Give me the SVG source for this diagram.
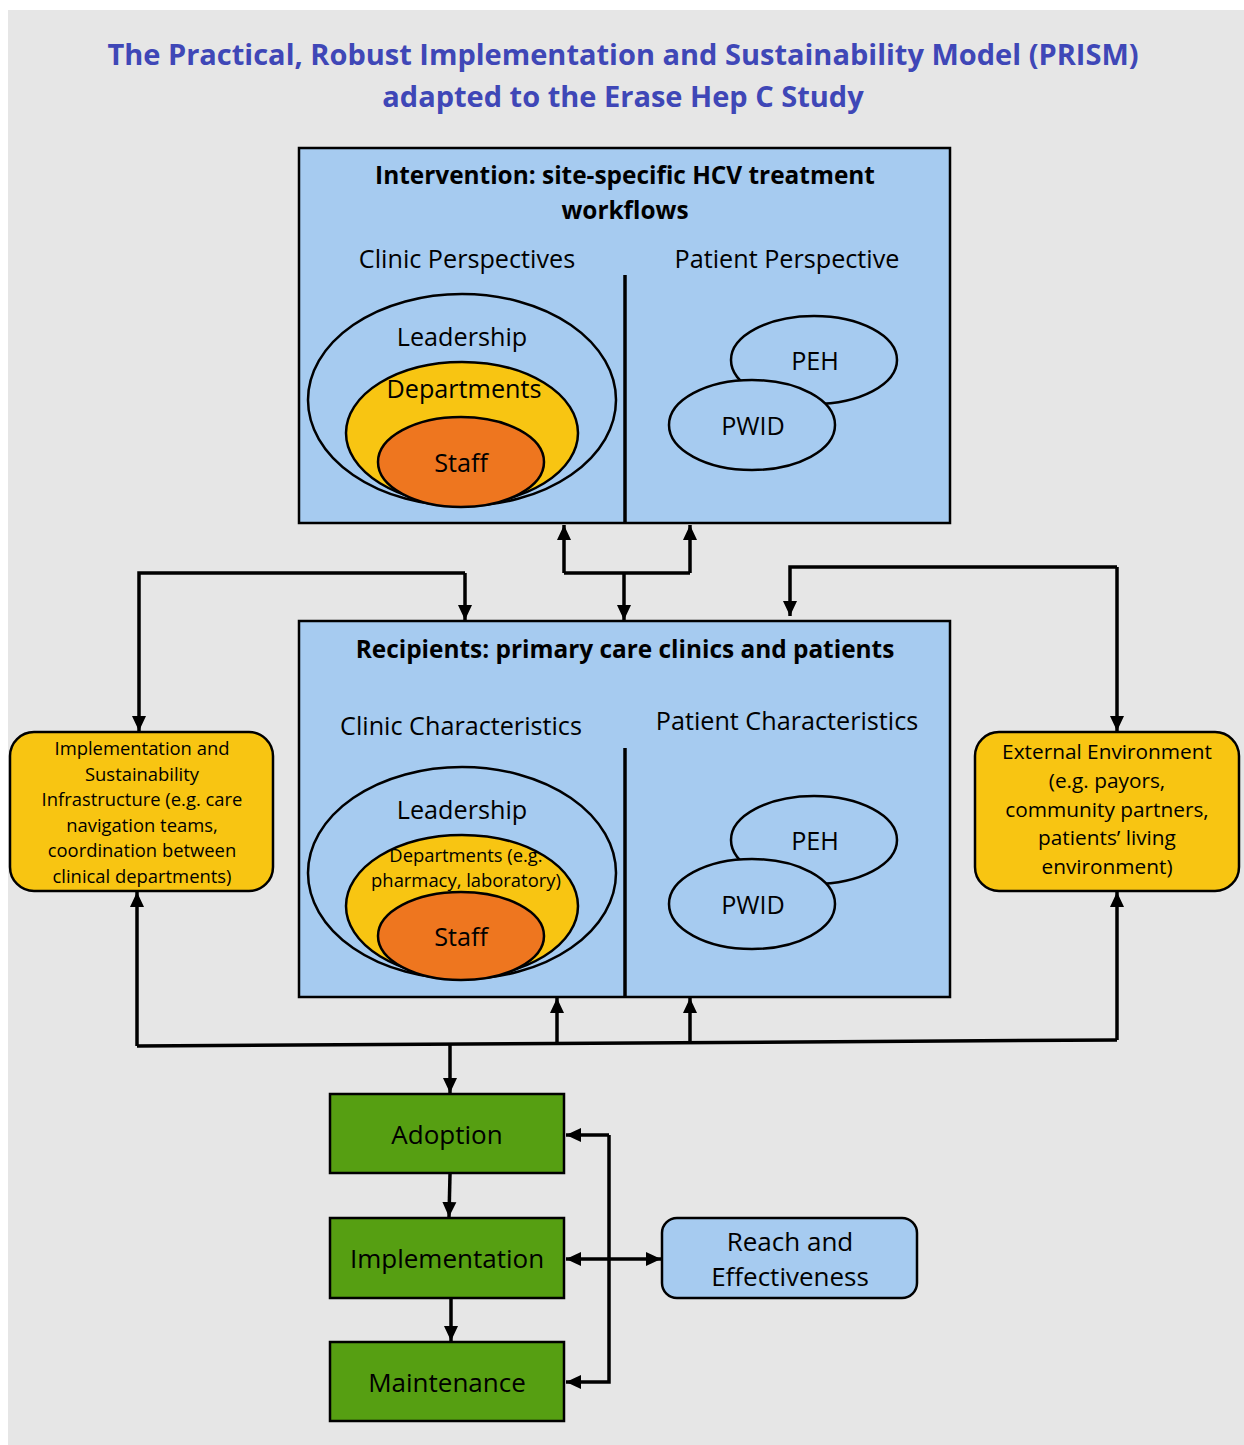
<svg xmlns="http://www.w3.org/2000/svg" width="1244" height="1445" viewBox="0 0 1244 1445">
<defs>
<marker id="ah" markerUnits="userSpaceOnUse" markerWidth="15" markerHeight="15" viewBox="0 0 15 15" refX="15" refY="7.5" orient="auto-start-reverse">
<path d="M0,0.5 L15,7.5 L0,14.5 Z" fill="#000"/>
</marker>
<style>
text{font-family:"Open Sans",Lato,"Liberation Sans",sans-serif;fill:#000;text-anchor:middle}
.title{font-size:29px;font-weight:bold;fill:#3f47b7}
.hd{font-size:24.4px;font-weight:bold}
.lb{font-size:25.2px}
.sm{font-size:18.4px}
.md{font-size:20.8px}
.big{font-size:26px}
.panel{fill:#a6cbf0;stroke:#000;stroke-width:2.5}
.yel{fill:#f8c512;stroke:#000;stroke-width:2.5}
.org{fill:#ee761f;stroke:#000;stroke-width:2.5}
.ell{fill:#a6cbf0;stroke:#000;stroke-width:2.5}
.grn{fill:#569f12;stroke:#000;stroke-width:2.5}
.div{stroke:#000;stroke-width:3.5}
.c{fill:none;stroke:#000;stroke-width:3.5}
.ca{fill:none;stroke:#000;stroke-width:3.5;marker-end:url(#ah)}
.cb{fill:none;stroke:#000;stroke-width:3.5;marker-end:url(#ah);marker-start:url(#ah)}
</style>
</defs>
<rect x="0" y="0" width="1244" height="1445" fill="#fff"/>
<rect x="8" y="10" width="1236" height="1435" fill="#e6e6e6"/>
<g id="title">
<text class="title" x="623" y="65">The Practical, Robust Implementation and Sustainability Model (PRISM)</text>
<text class="title" x="623" y="107">adapted to the Erase Hep C Study</text>
</g>
<g id="intervention">
<rect class="panel" x="299" y="148" width="651" height="375"/>
<text class="hd" x="625" y="184">Intervention: site-specific HCV treatment</text>
<text class="hd" x="625" y="219">workflows</text>
<text class="lb" x="467" y="268">Clinic Perspectives</text>
<text class="lb" x="787" y="268">Patient Perspective</text>
<line class="div" x1="625" y1="275" x2="625" y2="523"/>
<ellipse class="ell" cx="462" cy="400" rx="154" ry="106"/>
<ellipse class="yel" cx="462" cy="433" rx="116" ry="71"/>
<ellipse class="org" cx="461" cy="462" rx="83" ry="45"/>
<text class="lb" x="462" y="346">Leadership</text>
<text class="lb" x="464" y="398">Departments</text>
<text class="lb" x="461" y="472">Staff</text>
<ellipse class="ell" cx="814" cy="360" rx="83" ry="44"/>
<ellipse class="ell" cx="752" cy="425" rx="83" ry="45"/>
<text class="lb" x="815" y="370">PEH</text>
<text class="lb" x="753" y="435">PWID</text>
</g>
<g id="recipients">
<rect class="panel" x="299" y="621" width="651" height="376"/>
<text class="hd" x="625" y="658">Recipients: primary care clinics and patients</text>
<text class="lb" x="461" y="735">Clinic Characteristics</text>
<text class="lb" x="787" y="730">Patient Characteristics</text>
<line class="div" x1="625" y1="748" x2="625" y2="997"/>
<ellipse class="ell" cx="462" cy="873" rx="154" ry="106"/>
<ellipse class="yel" cx="462" cy="906" rx="116" ry="71"/>
<ellipse class="org" cx="461" cy="936" rx="83" ry="44"/>
<text class="lb" x="462" y="819">Leadership</text>
<text class="sm" x="466" y="862">Departments (e.g.</text>
<text class="sm" x="466" y="887">pharmacy, laboratory)</text>
<text class="lb" x="461" y="946">Staff</text>
<ellipse class="ell" cx="814" cy="840" rx="83" ry="44"/>
<ellipse class="ell" cx="752" cy="904" rx="83" ry="45"/>
<text class="lb" x="815" y="850">PEH</text>
<text class="lb" x="753" y="914">PWID</text>
</g>
<g id="infrastructure">
<rect class="yel" x="10" y="732" width="263" height="159" rx="24"/>
<text class="sm" x="142" y="755">Implementation and</text>
<text class="sm" x="142" y="781">Sustainability</text>
<text class="sm" x="142" y="806">Infrastructure (e.g. care</text>
<text class="sm" x="142" y="832">navigation teams,</text>
<text class="sm" x="142" y="857">coordination between</text>
<text class="sm" x="142" y="883">clinical departments)</text>
</g>
<g id="external">
<rect class="yel" x="975" y="732" width="264" height="159" rx="24"/>
<text class="md" x="1107" y="759">External Environment</text>
<text class="md" x="1107" y="788">(e.g. payors,</text>
<text class="md" x="1107" y="817">community partners,</text>
<text class="md" x="1107" y="845">patients’ living</text>
<text class="md" x="1107" y="874">environment)</text>
</g>
<g id="adoption">
<rect class="grn" x="330" y="1094" width="234" height="79"/>
<text class="big" x="447" y="1144">Adoption</text>
</g>
<g id="implementation">
<rect class="grn" x="330" y="1218" width="234" height="80"/>
<text class="big" x="447" y="1268">Implementation</text>
</g>
<g id="maintenance">
<rect class="grn" x="330" y="1342" width="234" height="79"/>
<text class="big" x="447" y="1392">Maintenance</text>
</g>
<g id="reach">
<rect class="panel" x="662" y="1218" width="255" height="80" rx="15"/>
<text class="big" x="790" y="1251">Reach and</text>
<text class="big" x="790" y="1286">Effectiveness</text>
</g>
<g id="connectors">
<polyline class="c" points="564,573 690,573"/>
<line class="ca" x1="564" y1="573" x2="564" y2="525"/>
<line class="ca" x1="690" y1="573" x2="690" y2="525"/>
<line class="ca" x1="624" y1="573" x2="624" y2="620"/>
<polyline class="ca" points="465,573 139,573 139,731"/>
<line class="ca" x1="465" y1="573" x2="465" y2="620"/>
<polyline class="ca" points="1117,567 790,567 790,616"/>
<line class="ca" x1="1117" y1="567" x2="1117" y2="731"/>
<line class="c" x1="137" y1="1046" x2="1117" y2="1040"/>
<line class="ca" x1="137" y1="1046" x2="137" y2="892"/>
<line class="ca" x1="1117" y1="1040" x2="1117" y2="892"/>
<line class="ca" x1="557" y1="1043" x2="557" y2="998"/>
<line class="ca" x1="690" y1="1043" x2="690" y2="998"/>
<line class="ca" x1="450" y1="1045" x2="450" y2="1093"/>
<line class="ca" x1="450" y1="1174" x2="449" y2="1217"/>
<line class="ca" x1="451" y1="1299" x2="451" y2="1341"/>
<polyline class="ca" points="609,1135 609,1382 566,1382"/>
<polyline class="ca" points="609,1135 566,1135"/>
<line class="cb" x1="566" y1="1259" x2="661" y2="1259"/>
</g>
</svg>
